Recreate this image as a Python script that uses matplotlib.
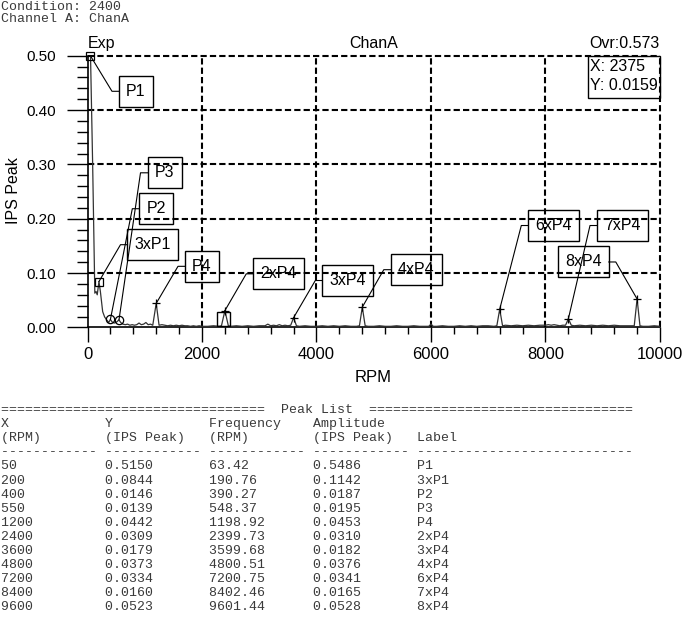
import matplotlib
matplotlib.use("Agg")
import matplotlib.pyplot as plt
from matplotlib.patches import Rectangle
from matplotlib.ticker import MultipleLocator, FormatStrFormatter
import numpy as np

plt.rcParams['font.family'] = ['Liberation Sans', 'DejaVu Sans']

# spectrum trace
trace_rpm = [50, 90, 128, 150, 170, 200, 225, 265, 300, 335, 370, 400, 430, 470, 510, 550, 580,
             620, 660, 700, 740, 780, 820, 860, 900, 940, 980, 1020, 1060, 1100, 1140, 1200, 1250,
             1300, 1350, 1400, 1450, 1500, 1550, 1600, 1650, 1700, 1750, 1800, 1850, 1900, 1950,
             2000, 2100, 2200, 2300, 2340, 2400, 2460, 2500, 2600, 2700, 2800, 2900, 3000, 3100,
             3150, 3200, 3250, 3300, 3350, 3400, 3450, 3500, 3550, 3600, 3650, 3700, 3800, 3900,
             4000, 4100, 4200, 4300, 4400, 4500, 4600, 4700, 4750, 4800, 4850, 4900, 5000, 5100,
             5200, 5300, 5400, 5500, 5600, 5700, 5800, 5900, 5960, 6000, 6040, 6100, 6200, 6300,
             6400, 6500, 6600, 6700, 6800, 6900, 7000, 7100, 7150, 7200, 7250, 7300, 7400, 7500,
             7600, 7700, 7800, 7900, 8000, 8050, 8100, 8150, 8200, 8250, 8300, 8350, 8400, 8450,
             8500, 8600, 8700, 8800, 8900, 9000, 9100, 9200, 9300, 9400, 9500, 9550, 9600, 9650,
             9700, 9800, 9900, 10000]
trace_ips = [0.515, 0.300, 0.063, 0.066, 0.060, 0.0844, 0.066, 0.029, 0.019, 0.014, 0.009, 0.0146,
             0.010, 0.008, 0.010, 0.0139, 0.009,
             0.006, 0.005, 0.006, 0.004, 0.005, 0.004, 0.005, 0.008, 0.005, 0.006, 0.009, 0.005,
             0.006, 0.004, 0.0442, 0.004,
             0.005, 0.004, 0.003, 0.004, 0.003, 0.004, 0.003, 0.004, 0.003, 0.003, 0.002, 0.003,
             0.002, 0.003,
             0.002, 0.002, 0.003, 0.002, 0.003, 0.0309, 0.003, 0.002, 0.003, 0.002, 0.003, 0.002,
             0.003, 0.003,
             0.006, 0.003, 0.004, 0.003, 0.005, 0.003, 0.004, 0.003, 0.004, 0.0179, 0.003, 0.002,
             0.003, 0.002,
             0.002, 0.003, 0.002, 0.003, 0.002, 0.003, 0.002, 0.002, 0.003, 0.0373, 0.003, 0.002,
             0.002, 0.003,
             0.002, 0.002, 0.003, 0.002, 0.002, 0.003, 0.002, 0.002, 0.002, 0.006, 0.002, 0.002,
             0.003, 0.002,
             0.002, 0.003, 0.002, 0.003, 0.002, 0.003, 0.003, 0.002, 0.003, 0.0334, 0.003, 0.004,
             0.003, 0.004,
             0.003, 0.004, 0.003, 0.004, 0.004, 0.005, 0.004, 0.005, 0.004, 0.003, 0.004, 0.004,
             0.0160, 0.004,
             0.003, 0.004, 0.003, 0.004, 0.003, 0.004, 0.003, 0.004, 0.003, 0.003, 0.003, 0.003,
             0.0523, 0.003,
             0.002, 0.002, 0.003, 0.002]

# peak list
peak_x = [50, 200, 400, 550, 1200, 2400, 3600, 4800, 7200, 8400, 9600]
peak_y = [0.5150, 0.0844, 0.0146, 0.0139, 0.0442, 0.0309, 0.0179, 0.0373, 0.0334, 0.0160, 0.0523]
peak_freq = [63.42, 190.76, 390.27, 548.37, 1198.92, 2399.73, 3599.68, 4800.51, 7200.75, 8402.46, 9601.44]
peak_amp = [0.5486, 0.1142, 0.0187, 0.0195, 0.0453, 0.0310, 0.0182, 0.0376, 0.0341, 0.0165, 0.0528]
peak_label = ['P1', '3xP1', 'P2', 'P3', 'P4', '2xP4', '3xP4', '4xP4', '6xP4', '7xP4', '8xP4']
peak_marker = ['s', 's', 'o', 'o', '+', '+', '+', '+', '+', '+', '+']

# label box centres (data units) and which side the leader attaches to
label_pos = [(847, 0.4345), (1144, 0.1522), (1202, 0.2184), (1345, 0.2845), (2000, 0.1124),
             (3341, 0.0986), (4547, 0.0863), (5743, 0.1062), (8145, 0.1875), (9345, 0.1875),
             (8660, 0.1204)]
label_side = ['l'] * 10 + ['r']

cursor_x = 2375
cursor_y = 0.0159
overall = 0.573

fig = plt.figure(figsize=(6.83, 6.22), dpi=100)
W, H = 683, 622
ax = fig.add_axes([87.5 / W, 1 - 327.4 / H, 572.5 / W, 271.7 / H])
ax.set_xlim(0, 10000)
ax.set_ylim(0, 0.5)

for s in ['top', 'right']:
    ax.spines[s].set_visible(False)
for s in ['left', 'bottom']:
    ax.spines[s].set_linewidth(1.2)

ax.xaxis.set_major_locator(MultipleLocator(2000))
ax.xaxis.set_minor_locator(MultipleLocator(400))
ax.yaxis.set_major_locator(MultipleLocator(0.1))
ax.yaxis.set_minor_locator(MultipleLocator(0.02))
ax.yaxis.set_major_formatter(FormatStrFormatter('%.2f'))
ax.tick_params(axis='x', which='major', length=11, width=1, labelsize=12, pad=3)
ax.tick_params(axis='x', which='minor', length=5, width=1)
ax.tick_params(axis='y', which='major', length=15, width=1, labelsize=11, pad=8)
ax.tick_params(axis='y', which='minor', length=8, width=1)

# dashed grid, including the edges at 0.5 and 10000
for gy in np.arange(0.1, 0.51, 0.1):
    ax.axhline(gy, color='black', lw=1.5, ls=(0, (3, 1.5)), clip_on=False, zorder=1)
for gx in np.arange(2000, 10001, 2000):
    ax.axvline(gx, color='black', lw=1.5, ls=(0, (3, 1.5)), clip_on=False, zorder=1)

ax.plot(trace_rpm, trace_ips, color='#333333', lw=0.9, zorder=3)

mark_y = np.minimum(peak_y, 0.5)
for px_, py_, m in zip(peak_x, mark_y, peak_marker):
    ax.plot(px_, py_, marker=m, ms=6, mfc='none', mec='black', mew=0.9,
            clip_on=False, zorder=4)

# cursor box
ax.add_patch(Rectangle((cursor_x - 110, cursor_y - 0.013), 220, 0.026, fill=False,
                       ec='black', lw=1, zorder=4))


def shift(x, y, dx, dy):
    X, Y = ax.transData.transform((x, y))
    return ax.transData.inverted().transform((X + dx, Y + dy))


for (cx, cy), lab, side, px_, py_ in zip(label_pos, peak_label, label_side, peak_x, mark_y):
    w = 17 + 8.5 * len(lab)
    h = 31
    x0, y0 = shift(cx, cy, -w / 2, -h / 2)
    x1, y1 = shift(cx, cy, w / 2, h / 2)
    ax.add_patch(Rectangle((x0, y0), x1 - x0, y1 - y0, fill=False, ec='black', lw=1,
                           clip_on=False, zorder=5))
    ax.text(cx, cy, lab, ha='center', va='center', fontsize=11.5, zorder=6)
    if side == 'l':
        ex, ey = shift(x0, cy, -7, 0)
        edge = x0
    else:
        ex, ey = shift(x1, cy, 7, 0)
        edge = x1
    ax.plot([px_, ex, edge], [py_, cy, cy], color='black', lw=0.8, clip_on=False, zorder=5)

# readout box at top right
ax.add_patch(Rectangle((0.874, 0.8443), 0.126, 0.1557, transform=ax.transAxes, fill=False,
                       ec='black', lw=1, clip_on=False, zorder=5))
ax.text(0.878, 0.962, f'X: {cursor_x}', transform=ax.transAxes, ha='left', va='center',
        fontsize=11.5)
ax.text(0.878, 0.8885, f'Y: {cursor_y:.4f}', transform=ax.transAxes, ha='left', va='center',
        fontsize=11.5)

fig.text(88 / W, 1 - 48 / H, 'Exp', ha='left', va='baseline', fontsize=11.5)
fig.text(374 / W, 1 - 48 / H, 'ChanA', ha='center', va='baseline', fontsize=11.5)
fig.text(660 / W, 1 - 48 / H, f'Ovr:{overall}', ha='right', va='baseline', fontsize=11.5)
fig.text(373 / W, 1 - 378 / H, 'RPM', ha='center', va='center', fontsize=12)
fig.text(14 / W, 1 - 191 / H, 'IPS Peak', ha='center', va='center', rotation=90, fontsize=11.5)

# monospaced header and peak list
mono = dict(family='Liberation Mono', fontsize=9.56, color='#3a3a3a', ha='left', va='center')
head = dict(mono, va='baseline')
fig.text(1 / W, 1 - 10.5 / H, 'Condition: 2400', **head)
fig.text(1 / W, 1 - 22.5 / H, 'Channel A: ChanA', **head)

lines = ['=' * 33 + '  Peak List  ' + '=' * 33,
         f"{'X':<13}{'Y':<13}{'Frequency':<13}{'Amplitude':<13}",
         f"{'(RPM)':<13}{'(IPS Peak)':<13}{'(RPM)':<13}{'(IPS Peak)':<13}Label",
         ' '.join(['-' * 12] * 4) + ' ' + '-' * 27]
for x, y, f, a, lab in zip(peak_x, peak_y, peak_freq, peak_amp, peak_label):
    lines.append(f"{x:<13}{y:<13.4f}{f:<13.2f}{a:<13.4f}{lab}")
for i, ln in enumerate(lines):
    fig.text(1 / W, 1 - (410 + 14.1 * i) / H, ln, **mono)

fig.savefig('out.png', dpi=100)
